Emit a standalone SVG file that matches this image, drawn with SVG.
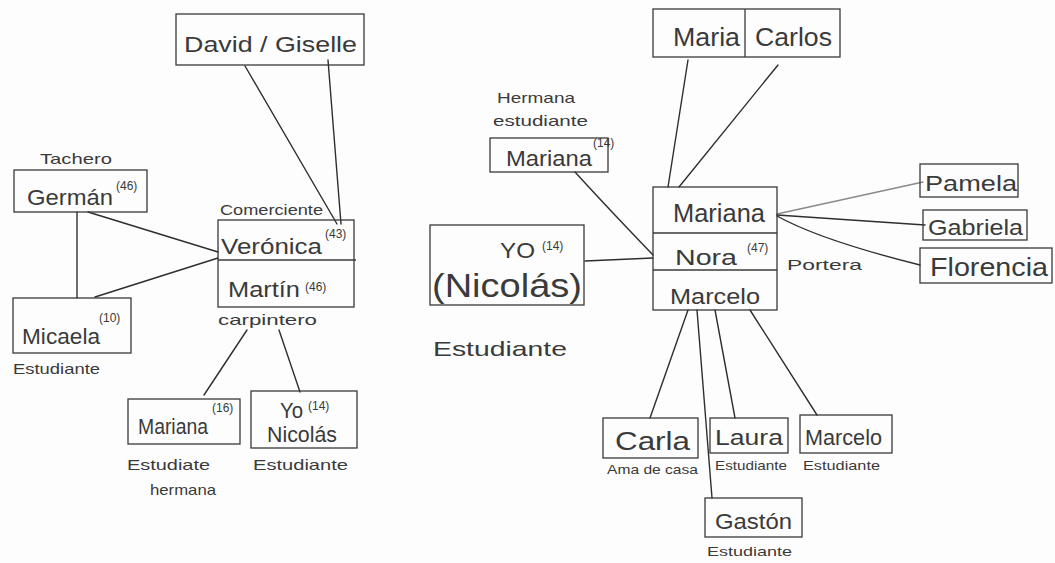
<svg xmlns="http://www.w3.org/2000/svg" width="1055" height="563" viewBox="0 0 1055 563">
  <style>
    .box { fill: none; stroke: #3a3a3a; stroke-width: 1.3; }
    .link { fill: none; stroke: #2e2e2e; stroke-width: 1.4; stroke-linecap: round; }
    .light { stroke: #8a8a8a; }
    text { font-family: "Liberation Sans", "DejaVu Sans", sans-serif; fill: #3a3a3a; }
    .name { font-size: 22px; }
    .big { font-size: 26px; }
    .lab { font-size: 15px; }
    .small { font-size: 13px; }
    .age { font-size: 12px; }
  </style>
  <rect width="1055" height="563" fill="#fdfdfd"/>

  <!-- connectors -->
  <g id="connectors">
    <!-- left family -->
    <path class="link" d="M245,66 L337,224"/>
    <path class="link" d="M328,60 L341,224"/>
    <path class="link" d="M77,212 L77,298"/>
    <path class="link" d="M88,212 L218,252"/>
    <path class="link" d="M95,297 L218,258"/>
    <path class="link" d="M247,330 L204,395"/>
    <path class="link" d="M279,330 L300,392"/>
    <!-- right family -->
    <path class="link" d="M688,60 L668,187"/>
    <path class="link" d="M778,65 L679,187"/>
    <path class="link" d="M575,172 Q605,205 653,255"/>
    <path class="link" d="M585,261 L653,258"/>
    <path class="link light" d="M777,214 L923,182"/>
    <path class="link" d="M777,215 L925,225"/>
    <path class="link" d="M777,216 Q820,240 920,265"/>
    <path class="link" d="M688,310 L650,418"/>
    <path class="link" d="M697,310 L712,498"/>
    <path class="link" d="M715,310 L735,418"/>
    <path class="link" d="M750,310 L817,415"/>
  </g>

  <!-- left cluster -->
  <g id="david-giselle">
    <rect class="box" x="176" y="14" width="188" height="51"/>
    <text class="name" x="184" y="52" textLength="173" lengthAdjust="spacingAndGlyphs">David / Giselle</text>
  </g>
  <g id="german">
    <text class="lab" x="40" y="164" textLength="72" lengthAdjust="spacingAndGlyphs">Tachero</text>
    <rect class="box" x="14" y="170" width="133" height="42"/>
    <text class="age" x="116" y="190">(46)</text>
    <text class="name" x="27" y="205" textLength="86" lengthAdjust="spacingAndGlyphs">Germán</text>
  </g>
  <g id="micaela">
    <rect class="box" x="13" y="298" width="118" height="55"/>
    <text class="age" x="99" y="322">(10)</text>
    <text class="name" x="22" y="344" textLength="78" lengthAdjust="spacingAndGlyphs">Micaela</text>
    <text class="lab" x="13" y="374" textLength="87" lengthAdjust="spacingAndGlyphs">Estudiante</text>
  </g>
  <g id="veronica-martin">
    <text class="lab" x="220" y="215" textLength="103" lengthAdjust="spacingAndGlyphs">Comerciente</text>
    <rect class="box" x="218" y="220" width="136" height="87"/>
    <line class="box" x1="218" y1="260" x2="356" y2="260"/>
    <text class="age" x="325" y="238">(43)</text>
    <text class="name" x="221" y="254" textLength="101" lengthAdjust="spacingAndGlyphs">Verónica</text>
    <text class="name" x="228" y="297" textLength="72" lengthAdjust="spacingAndGlyphs">Martín</text>
    <text class="age" x="305" y="291">(46)</text>
    <text class="lab" x="218" y="325" textLength="99" lengthAdjust="spacingAndGlyphs">carpintero</text>
  </g>
  <g id="mariana-16">
    <rect class="box" x="128" y="399" width="112" height="45"/>
    <text class="age" x="212" y="412" font-size="11">(16)</text>
    <text class="name" x="138" y="434" font-size="18" textLength="70" lengthAdjust="spacingAndGlyphs">Mariana</text>
    <text class="lab" x="127" y="470" textLength="83" lengthAdjust="spacingAndGlyphs">Estudiate</text>
    <text class="lab" x="150" y="495" textLength="66" lengthAdjust="spacingAndGlyphs">hermana</text>
  </g>
  <g id="yo-nicolas-left">
    <rect class="box" x="251" y="391" width="106" height="57"/>
    <text class="name" x="280" y="418" font-size="20" textLength="23" lengthAdjust="spacingAndGlyphs">Yo</text>
    <text class="age" x="308" y="410">(14)</text>
    <text class="name" x="267" y="442" font-size="20" textLength="70" lengthAdjust="spacingAndGlyphs">Nicolás</text>
    <text class="lab" x="253" y="470" textLength="95" lengthAdjust="spacingAndGlyphs">Estudiante</text>
  </g>

  <!-- right cluster -->
  <g id="maria-carlos">
    <rect class="box" x="653" y="9" width="187" height="48"/>
    <line class="box" x1="745" y1="9" x2="745" y2="57"/>
    <text class="big" x="673" y="46" textLength="67" lengthAdjust="spacingAndGlyphs">Maria</text>
    <text class="big" x="755" y="46" textLength="77" lengthAdjust="spacingAndGlyphs">Carlos</text>
  </g>
  <g id="mariana-14">
    <text class="lab" x="497" y="103" textLength="78" lengthAdjust="spacingAndGlyphs">Hermana</text>
    <text class="lab" x="493" y="126" textLength="95" lengthAdjust="spacingAndGlyphs">estudiante</text>
    <rect class="box" x="490" y="138" width="118" height="34"/>
    <text class="age" x="593" y="147" font-size="10">(14)</text>
    <text class="name" x="506" y="166" font-size="20" textLength="86" lengthAdjust="spacingAndGlyphs">Mariana</text>
  </g>
  <g id="yo-nicolas">
    <rect class="box" x="430" y="225" width="154" height="80"/>
    <text class="name" x="500" y="258" textLength="35" lengthAdjust="spacingAndGlyphs">YO</text>
    <text class="age" x="542" y="250" font-size="15">(14)</text>
    <text x="432" y="297" font-size="34" textLength="150" lengthAdjust="spacingAndGlyphs">(Nicolás)</text>
    <text x="433" y="356" font-size="21" textLength="134" lengthAdjust="spacingAndGlyphs">Estudiante</text>
  </g>
  <g id="mariana-nora-marcelo">
    <rect class="box" x="653" y="187" width="124" height="123"/>
    <line class="box" x1="653" y1="233" x2="777" y2="233"/>
    <line class="box" x1="653" y1="270" x2="777" y2="270"/>
    <text class="big" x="673" y="222" textLength="92" lengthAdjust="spacingAndGlyphs">Mariana</text>
    <text class="name" x="675" y="265" textLength="62" lengthAdjust="spacingAndGlyphs">Nora</text>
    <text class="age" x="747" y="252">(47)</text>
    <text class="name" x="670" y="304" textLength="90" lengthAdjust="spacingAndGlyphs">Marcelo</text>
    <text class="lab" x="787" y="270" font-size="16" textLength="75" lengthAdjust="spacingAndGlyphs">Portera</text>
  </g>
  <g id="pamela">
    <rect class="box" x="920" y="164" width="98" height="33"/>
    <text class="name" x="925" y="191" textLength="92" lengthAdjust="spacingAndGlyphs">Pamela</text>
  </g>
  <g id="gabriela">
    <rect class="box" x="923" y="210" width="104" height="30"/>
    <text class="name" x="928" y="235" textLength="95" lengthAdjust="spacingAndGlyphs">Gabriela</text>
  </g>
  <g id="florencia">
    <rect class="box" x="920" y="248" width="132" height="35"/>
    <text class="big" x="930" y="276" textLength="118" lengthAdjust="spacingAndGlyphs">Florencia</text>
  </g>
  <g id="carla">
    <rect class="box" x="603" y="418" width="95" height="40"/>
    <text class="big" x="615" y="450" textLength="75" lengthAdjust="spacingAndGlyphs">Carla</text>
    <text class="small" x="607" y="474" textLength="91" lengthAdjust="spacingAndGlyphs">Ama de casa</text>
  </g>
  <g id="laura">
    <rect class="box" x="710" y="418" width="78" height="35"/>
    <text class="name" x="715" y="445" textLength="68" lengthAdjust="spacingAndGlyphs">Laura</text>
    <text class="small" x="715" y="470" textLength="72" lengthAdjust="spacingAndGlyphs">Estudiante</text>
  </g>
  <g id="marcelo">
    <rect class="box" x="800" y="415" width="92" height="38"/>
    <text class="name" x="805" y="445" textLength="77" lengthAdjust="spacingAndGlyphs">Marcelo</text>
    <text class="small" x="803" y="470" textLength="77" lengthAdjust="spacingAndGlyphs">Estudiante</text>
  </g>
  <g id="gaston">
    <rect class="box" x="705" y="498" width="97" height="39"/>
    <text class="name" x="715" y="529" textLength="77" lengthAdjust="spacingAndGlyphs">Gastón</text>
    <text class="small" x="707" y="556" textLength="85" lengthAdjust="spacingAndGlyphs">Estudiante</text>
  </g>
</svg>
